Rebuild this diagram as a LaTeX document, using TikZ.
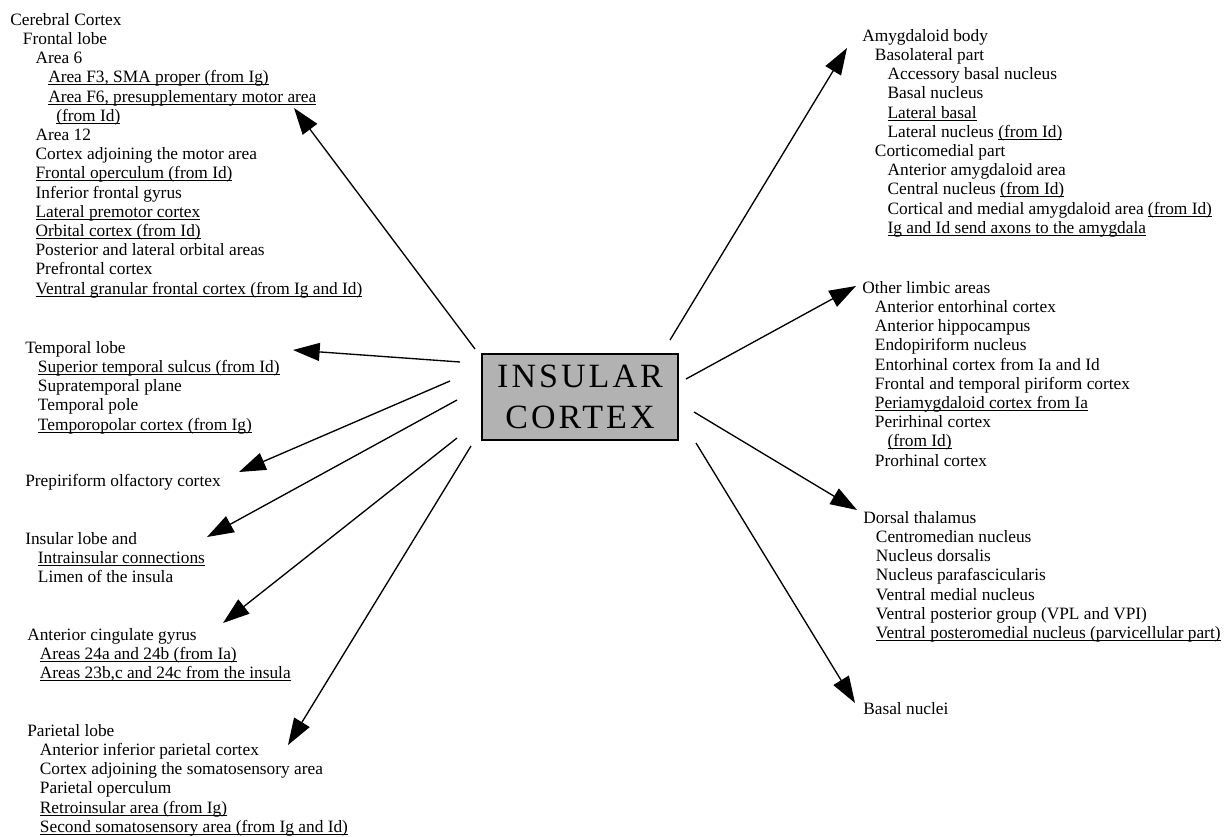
\documentclass[tikz,border=0pt]{standalone}
\usepackage{fontspec}
\setmainfont{Liberation Serif}
\newfontfamily\boxfont[LetterSpace=9]{Liberation Serif}
\usetikzlibrary{arrows.meta}

\newcommand{\stepin}{\hspace*{9.5pt}}
\newcommand{\undl}[1]{\setbox0\hbox{#1}\rlap{\rule[-1.7pt]{\wd0}{0.6pt}}\box0}

\tikzset{
  listtext/.style={anchor=north west, inner sep=0pt, align=left,
    font=\fontsize{13}{14.4}\selectfont},
  conn/.style={line width=1pt, -{Triangle[length=20pt,width=13.5pt]}},
}

\begin{document}
\begin{tikzpicture}[x=0.75pt,y=0.75pt,yscale=-1,xscale=1]
\useasboundingbox (0,0) rectangle (1227,836);

% Centre box
\node (insula) [draw, line width=1.1pt, fill=gray!60, minimum width=147pt, minimum height=64.5pt, align=center, inner sep=0pt, font=\boxfont\fontsize{25.5}{31}\selectfont] at (580,397) {INSULAR\\CORTEX};

% Text Node
\node (frontal) [listtext] at (10,13) {Cerebral Cortex\\
\stepin Frontal lobe\\
\stepin\stepin Area 6\\
\stepin\stepin\stepin\undl{Area F3, SMA proper (from Ig)}\\
\stepin\stepin\stepin\undl{Area F6, presupplementary motor area}\\
\stepin\stepin\stepin\hspace*{6pt}\undl{(from Id)}\\
\stepin\stepin Area 12\\
\stepin\stepin Cortex adjoining the motor area\\
\stepin\stepin\undl{Frontal operculum (from Id)}\\
\stepin\stepin Inferior frontal gyrus\\
\stepin\stepin\undl{Lateral premotor cortex}\\
\stepin\stepin\undl{Orbital cortex (from Id)}\\
\stepin\stepin Posterior and lateral orbital areas\\
\stepin\stepin Prefrontal cortex\\
\stepin\stepin\undl{Ventral granular frontal cortex (from Ig and Id)}};
% Text Node
\node (temporal) [listtext] at (25,341) {Temporal lobe\\
\stepin\undl{Superior temporal sulcus (from Id)}\\
\stepin Supratemporal plane\\
\stepin Temporal pole\\
\stepin\undl{Temporopolar cortex (from Ig)}};
% Text Node
\node (prepiri) [listtext] at (25,474) {Prepiriform olfactory cortex};
% Text Node
\node (insular) [listtext] at (25,532) {Insular lobe and\\
\stepin\undl{Intrainsular connections}\\
\stepin Limen of the insula};
% Text Node
\node (cingulate) [listtext] at (27,628) {Anterior cingulate gyrus\\
\stepin\undl{Areas 24a and 24b (from Ia)}\\
\stepin\undl{Areas 23b,c and 24c from the insula}};
% Text Node
\node (parietal) [listtext] at (27,724) {Parietal lobe\\
\stepin Anterior inferior parietal cortex\\
\stepin Cortex adjoining the somatosensory area\\
\stepin Parietal operculum\\
\stepin\undl{Retroinsular area (from Ig)}\\
\stepin\undl{Second somatosensory area (from Ig and Id)}};

% Text Node
\node (amygdala) [listtext] at (862,29) {Amygdaloid body\\
\stepin Basolateral part\\
\stepin\stepin Accessory basal nucleus\\
\stepin\stepin Basal nucleus\\
\stepin\stepin\undl{Lateral basal}\\
\stepin\stepin Lateral nucleus \undl{(from Id)}\\
\stepin Corticomedial part\\
\stepin\stepin Anterior amygdaloid area\\
\stepin\stepin Central nucleus \undl{(from Id)}\\
\stepin\stepin Cortical and medial amygdaloid area \undl{(from Id)}\\
\stepin\stepin\undl{Ig and Id send axons to the amygdala}};
% Text Node
\node (limbic) [listtext] at (862,281) {Other limbic areas\\
\stepin Anterior entorhinal cortex\\
\stepin Anterior hippocampus\\
\stepin Endopiriform nucleus\\
\stepin Entorhinal cortex from Ia and Id\\
\stepin Frontal and temporal piriform cortex\\
\stepin\undl{Periamygdaloid cortex from Ia}\\
\stepin Perirhinal cortex\\
\stepin\stepin\undl{(from Id)}\\
\stepin Prorhinal cortex};
% Text Node
\node (thalamus) [listtext] at (863,511) {Dorsal thalamus\\
\stepin Centromedian nucleus\\
\stepin Nucleus dorsalis\\
\stepin Nucleus parafascicularis\\
\stepin Ventral medial nucleus\\
\stepin Ventral posterior group (VPL and VPI)\\
\stepin\undl{Ventral posteromedial nucleus (parvicellular part)}};
% Text Node
\node (basal) [listtext] at (863,702) {Basal nuclei};

% Arrow ends
\coordinate (frontal-s) at (475,349);   \coordinate (frontal-t) at (294,108);
\coordinate (temporal-s) at (460,362);  \coordinate (temporal-t) at (293,350);
\coordinate (prepiri-s) at (450,381);   \coordinate (prepiri-t) at (239,472);
\coordinate (insular-s) at (457,400);   \coordinate (insular-t) at (207,537);
\coordinate (cingulate-s) at (457,438); \coordinate (cingulate-t) at (223,623);
\coordinate (parietal-s) at (471,446);  \coordinate (parietal-t) at (288,745);
\coordinate (amygdala-s) at (670,340);  \coordinate (amygdala-t) at (847,48);
\coordinate (limbic-s) at (686,379);    \coordinate (limbic-t) at (856,286);
\coordinate (thalamus-s) at (694,412);  \coordinate (thalamus-t) at (857,510);
\coordinate (basal-s) at (696,443);     \coordinate (basal-t) at (855,703);

% Connection
\foreach \n in {frontal,temporal,prepiri,insular,cingulate,parietal,amygdala,limbic,thalamus,basal}
  \draw [conn] (\n-s) -- (\n-t);

\end{tikzpicture}
\end{document}
